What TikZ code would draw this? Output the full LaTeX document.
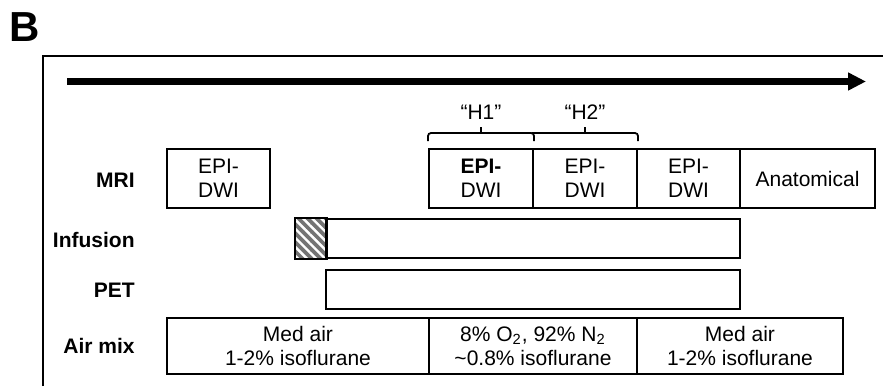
\documentclass[tikz,border=0pt]{standalone}
\usepackage{fontspec}
\setmainfont{Liberation Sans}
\usetikzlibrary{arrows.meta,patterns.meta,calc}
\begin{document}
\begin{tikzpicture}[x=0.5pt,y=-0.5pt,
  box/.style={draw=black,line width=1pt,inner sep=0pt,align=center,font=\fontsize{10.5}{12}\selectfont,minimum height=29.5pt},
  rowlab/.style={anchor=east,inner sep=0pt,font=\fontsize{10.5}{12}\selectfont\bfseries},
  brace/.style={line width=0.9pt,rounded corners=1.5pt},
  hlab/.style={inner sep=0pt,font=\fontsize{10.5}{12}\selectfont}]
\useasboundingbox (0,0) rectangle (883,386);
% panel letter
\node[inner sep=0pt,font=\fontsize{21}{24}\selectfont\bfseries] (B) at (24.5,27) {B};
% frame
\coordinate (fbl) at (43,386);
\coordinate (ftl) at (43,56);
\coordinate (ftr) at (883,56);
\draw[line width=1pt] (fbl) -- (ftl) -- (ftr);
% time arrow
\coordinate (as) at (67,81.5);
\coordinate (ae) at (866,81.5);
\draw[line width=3.5pt,-{Triangle[length=9pt,width=8.5pt]}] (as) -- (ae);
% MRI row
\node[box,minimum width=51.5pt] (m1) at (218.5,178.5) {EPI-\\DWI};
\node[box,minimum width=52pt] (h1) at (481,178.5) {\textbf{EPI-}\\DWI};
\node[box,minimum width=52pt] (h2) at (585,178.5) {EPI-\\DWI};
\node[box,minimum width=51.5pt] (m3) at (688.5,178.5) {EPI-\\DWI};
\node[box,minimum width=67.5pt] (an) at (807.5,178.5) {Anatomical};
% Infusion row
\node[box,minimum width=15pt,minimum height=19.5pt] (hat) at (311,238.5) {};
\fill[black!55] (hat.south west) rectangle (hat.north east);
\fill[pattern={Lines[angle=-45,distance=3.2pt,line width=1.2pt]},pattern color=white] (hat.south west) rectangle (hat.north east);
\draw[line width=1pt] (hat.south west) rectangle (hat.north east);
\node[box,minimum width=207pt,minimum height=19.5pt] (inf) at (533,238.5) {};
% PET row
\node[box,minimum width=207pt,minimum height=19.5pt] (pet) at (533,289.5) {};
% Air mix row
\node[box,minimum width=131pt,minimum height=28pt] (a1) at (298,346) {Med air\\1-2\% isoflurane};
\node[box,minimum width=104pt,minimum height=28pt] (a2) at (533,346) {8\% O\textsubscript{2}, 92\% N\textsubscript{2}\\\textasciitilde0.8\% isoflurane};
\node[box,minimum width=103pt,minimum height=28pt] (a3) at (740,346) {Med air\\1-2\% isoflurane};
% row labels
\node[rowlab] (lmri) at (135,180) {MRI};
\node[rowlab] (linf) at (135,240) {Infusion};
\node[rowlab] (lpet) at (135,290) {PET};
\node[rowlab] (lair) at (135,346) {Air mix};
% brackets
\draw[brace] ($(h1.north west)+(0,-7)$) -- ($(h1.north west)+(0,-15)$) -- ($(h1.north east)+(0,-15)$) -- ($(h1.north east)+(0,-7)$);
\draw[brace] ($(h2.north west)+(0,-15)$) -- ($(h2.north east)+(0,-15)$) -- ($(h2.north east)+(0,-7)$);
\draw[line width=0.9pt] ($(h1.north)+(0,-15)$) -- ($(h1.north)+(0,-21)$);
\draw[line width=0.9pt] ($(h2.north)+(0,-15)$) -- ($(h2.north)+(0,-21)$);
\node[hlab] (lh1) at (481,112) {“H1”};
\node[hlab] (lh2) at (585,112) {“H2”};
\end{tikzpicture}
\end{document}
